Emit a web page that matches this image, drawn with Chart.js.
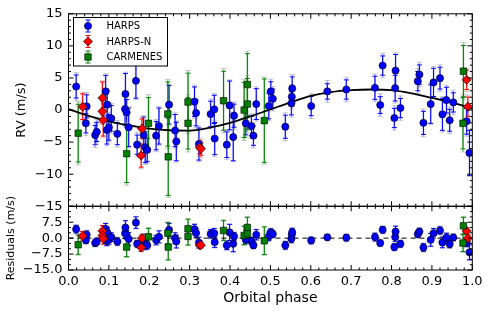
<!DOCTYPE html>
<html>
<head>
<meta charset="utf-8">
<script src="https://cdn.jsdelivr.net/npm/chart.js@4.4.1/dist/chart.umd.min.js"></script>
<style>
  html, body { margin: 0; padding: 0; background: #fff; }
  #wrap { width: 490px; height: 312px; }
</style>
</head>
<body>
<div id="wrap"><canvas id="rvChart" width="490" height="312"></canvas></div>
<script>
// HARPS: phase, RV, residual, error (m/s)
const harpsPhase = [0.019, 0.043, 0.045, 0.066, 0.070, 0.092, 0.095, 0.096, 0.100, 0.106,
  0.121, 0.140, 0.141, 0.144, 0.149, 0.167, 0.170, 0.186, 0.190, 0.195,
  0.217, 0.224, 0.249, 0.264, 0.267, 0.312, 0.316, 0.323, 0.352, 0.361,
  0.362, 0.392, 0.399, 0.408, 0.410, 0.439, 0.453, 0.458, 0.465, 0.496,
  0.501, 0.506, 0.537, 0.552, 0.553, 0.554, 0.601, 0.641, 0.688, 0.759,
  0.772, 0.778, 0.807, 0.809, 0.810, 0.822, 0.865, 0.869, 0.879, 0.897,
  0.904, 0.920, 0.926, 0.936, 0.944, 0.953, 0.986, 0.993];
const harpsRv = [3.67, -2.07, 0.57, -3.9, -3.4, 2.9, -3.1, 0.83, -2.7, -1.3,
  -3.7, 0.16, 2.5, -0.36, -2.7, 4.55, -5.4, -3.9, -5.8, -6.2,
  -4.0, -2.5, 0.83, -3.2, -4.9, 1.3, -0.46, -5.3, -0.62, 0.1,
  -4.45, -5.4, 0.72, -4.2, -0.88, -2.07, -2.5, -4.0, 0.93, 0.62,
  2.9, 1.76, -2.6, 1.04, 2.07, 3.37, 0.62, 2.9, 3.2, 3.47,
  0.78, 6.93, -1.24, 3.42, 6.16, 0.31, 4.5, 5.53, -2.0, 0.93,
  4.3, 4.97, -0.67, 1.55, -1.6, 1.19, -1.76, -6.68];
const harpsRes = [4.2, -1.0, 1.6, -2.3, -1.6, 4.4, -1.3, 2.7, -0.8, 0.5,
  -1.6, 2.3, 5.0, 1.5, -0.4, 7.3, -2.7, -1.0, -3.0, -3.3,
  -0.9, 0.6, 3.9, 0.0, -1.6, 4.2, 2.4, -2.1, 2.0, 2.3,
  -1.9, -3.4, 2.7, -2.7, 0.8, -0.8, -1.3, -3.3, 1.6, 0.8,
  2.8, 1.9, -3.4, -0.3, 1.6, 2.8, -1.1, 0.4, 0.2, 0.5,
  -2.3, 3.9, -4.2, 0.5, 3.1, -2.7, 1.9, 3.1, -4.4, -0.8,
  2.3, 3.6, -2.0, 0.3, -2.8, 0.3, -2.0, -6.7];
const harpsErr = [1.8, 1.5, 1.8, 1.5, 1.5, 2.5, 2.2, 2.2, 2.0, 2.0,
  1.7, 2.5, 3.2, 2.0, 3.0, 2.7, 1.5, 2.8, 2.4, 1.8,
  2.2, 2.8, 3.0, 2.5, 3.0, 2.3, 2.0, 2.5, 2.0, 2.2,
  2.5, 2.0, 3.8, 3.7, 1.8, 1.8, 1.5, 1.5, 2.4, 2.0,
  1.5, 1.5, 1.8, 1.8, 1.5, 1.8, 1.5, 1.2, 1.5, 1.8,
  1.3, 1.5, 1.5, 2.0, 2.5, 1.5, 1.5, 1.5, 1.8, 3.0,
  2.2, 1.7, 2.5, 2.0, 1.7, 1.5, 2.0, 3.5];

// HARPS-N
const harpsnPhase = [0.035, 0.084, 0.084, 0.086, 0.180, 0.182, 0.325, 0.328, 0.986, 0.989];
const harpsnRv = [0.52, 1.87, -0.2, -1.55, -7.1, -2.9, -5.8, -6.05, 4.71, 0.52];
const harpsnRes = [1.1, 3.4, 1.25, -0.3, -4.4, 0.0, -3.4, -3.3, 3.4, 0.0];
const harpsnErr = [2.0, 2.5, 1.8, 2.5, 1.8, 1.5, 1.0, 1.0, 1.5, 1.5];

// CARMENES
const carmPhase = [0.024, 0.144, 0.198, 0.246, 0.247, 0.296, 0.296, 0.384, 0.435, 0.443,
  0.443, 0.485, 0.977, 0.978];
const carmRv = [-3.6, -6.8, -2.07, -0.62, -7.3, 1.25, -2.07, 1.45, 0.0, 3.98,
  0.93, -1.65, -2.07, 6.06];
const carmRes = [-3.1, -4.2, 0.6, 2.3, -4.2, 4.4, 0.8, 3.6, 1.25, 5.0,
  2.0, -1.25, -2.3, 5.8];
const carmErr = [4.5, 4.5, 4.0, 5.0, 6.0, 4.5, 4.0, 4.6, 4.3, 4.8,
  4.0, 6.5, 4.0, 4.0];

// Keplerian model curve
const modelPhase = [0, 0.05, 0.1, 0.15, 0.2, 0.25, 0.3, 0.35, 0.4, 0.45, 0.5,
  0.55, 0.6, 0.65, 0.7, 0.75, 0.8, 0.85, 0.9, 0.95, 1.0];
const modelRv = [0.15, -0.9, -1.75, -2.4, -2.9, -3.15, -3.2, -2.75, -2.0, -1.0, 0.1,
  1.2, 2.2, 2.8, 3.1, 3.2, 3.1, 2.6, 1.9, 1.2, 0.2];

const zeroPhase = [0, 1];
const zeroRes = [0, 0];

const jitter = { harps: 1.2, harpsn: 1.0, carm: 2.0 };

const FONT = "'DejaVu Sans', 'Liberation Sans', sans-serif";
const minus = (s) => String(s).replace('-', '\u2212');

function pts(xs, ys) {
  return xs.map((x, i) => ({ x: x, y: ys[i] }));
}

function scatterSet(label, xs, ys, errs, jit, axis, style) {
  return {
    label: label,
    data: pts(xs, ys),
    yAxisID: axis,
    yErr: errs,
    jitter: jit,
    errColor: style.err,
    errLight: style.light,
    pointStyle: style.shape,
    pointRadius: style.radius,
    pointHoverRadius: style.radius,
    pointBackgroundColor: style.fill,
    pointBorderColor: '#000',
    pointBorderWidth: 0.6,
    order: style.order,
  };
}

const harpsStyle = { fill: '#0000ff', err: '#0000ff', light: 'rgba(0,0,255,0.35)', shape: 'circle', radius: 3.6, order: 3 };
const harpsnStyle = { fill: '#ff0000', err: '#ff0000', light: 'rgba(255,0,0,0.35)', shape: 'rectRot', radius: 4.6, order: 2 };
const carmStyle = { fill: '#008000', err: '#008000', light: 'rgba(0,128,0,0.4)', shape: 'rect', radius: 4.6, order: 1 };

// error bars under the markers
const errorBarPlugin = {
  id: 'errorBars',
  beforeDatasetsDraw(chart) {
    const ctx = chart.ctx;
    const area = chart.chartArea;
    ctx.save();
    ctx.beginPath();
    ctx.rect(area.left, area.top, area.right - area.left, area.bottom - area.top);
    ctx.clip();
    chart.data.datasets.forEach((ds, i) => {
      if (!ds.yErr) return;
      const meta = chart.getDatasetMeta(i);
      const ys = chart.scales[ds.yAxisID];
      meta.data.forEach((pt, j) => {
        const v = ds.data[j].y;
        const e = ds.yErr[j];
        const eo = Math.sqrt(e * e + ds.jitter * ds.jitter);
        const x = pt.x;
        const oTop = ys.getPixelForValue(v + eo);
        const oBot = ys.getPixelForValue(v - eo);
        const iTop = ys.getPixelForValue(v + e);
        const iBot = ys.getPixelForValue(v - e);
        // outer (with jitter)
        ctx.strokeStyle = ds.errLight;
        ctx.lineWidth = 1.6;
        ctx.beginPath();
        ctx.moveTo(x, oTop); ctx.lineTo(x, oBot);
        ctx.stroke();
        ctx.strokeStyle = 'rgba(150,150,150,0.45)';
        ctx.lineWidth = 1;
        ctx.beginPath();
        ctx.moveTo(x - 3, oTop); ctx.lineTo(x + 3, oTop);
        ctx.moveTo(x - 3, oBot); ctx.lineTo(x + 3, oBot);
        ctx.stroke();
        // inner
        ctx.strokeStyle = ds.errColor;
        ctx.lineWidth = 1;
        ctx.beginPath();
        ctx.moveTo(x, iTop); ctx.lineTo(x, iBot);
        ctx.moveTo(x - 2.5, iTop); ctx.lineTo(x + 2.5, iTop);
        ctx.moveTo(x - 2.5, iBot); ctx.lineTo(x + 2.5, iBot);
        ctx.stroke();
      });
    });
    ctx.restore();
  },
};

// matplotlib-like frames with inward ticks, titles and legend
const framePlugin = {
  id: 'frames',
  afterDraw(chart) {
    const ctx = chart.ctx;
    const xs = chart.scales.x;
    const panels = [
      { scale: chart.scales.y, major: 5, minor: 1 },
      { scale: chart.scales.yr, major: 7.5, minor: 2.5 },
    ];
    ctx.save();
    ctx.strokeStyle = '#000';
    panels.forEach((p) => {
      const s = p.scale;
      const l = xs.left, r = xs.right, t = s.top, b = s.bottom;
      ctx.lineWidth = 1;
      ctx.strokeRect(l, t, r - l, b - t);
      ctx.beginPath();
      for (let k = 0; k <= 50; k++) {
        const x = xs.getPixelForValue(k / 50);
        const len = k % 5 === 0 ? 5 : 2.5;
        ctx.moveTo(x, t); ctx.lineTo(x, t + len);
        ctx.moveTo(x, b); ctx.lineTo(x, b - len);
      }
      const n = Math.round((s.max - s.min) / p.minor);
      for (let k = 0; k <= n; k++) {
        const v = s.min + k * p.minor;
        const y = s.getPixelForValue(v);
        const isMajor = Math.abs((v - s.min) / p.major - Math.round((v - s.min) / p.major)) < 1e-6;
        const len = isMajor ? 5 : 2.5;
        ctx.moveTo(l, y); ctx.lineTo(l + len, y);
        ctx.moveTo(r, y); ctx.lineTo(r - len, y);
      }
      ctx.stroke();
    });

    // axis titles
    ctx.fillStyle = '#000';
    ctx.textAlign = 'center';
    ctx.textBaseline = 'middle';
    ctx.font = '14px ' + FONT;
    ctx.fillText('Orbital phase', (xs.left + xs.right) / 2, 298);
    const ty = chart.scales.y;
    ctx.save();
    ctx.translate(22, (ty.top + ty.bottom) / 2);
    ctx.rotate(-Math.PI / 2);
    ctx.font = '13px ' + FONT;
    ctx.fillText('RV (m/s)', 0, 0);
    ctx.restore();
    const tr = chart.scales.yr;
    ctx.save();
    ctx.translate(11, (tr.top + tr.bottom) / 2);
    ctx.rotate(-Math.PI / 2);
    ctx.font = '11px ' + FONT;
    ctx.fillText('Residuals (m/s)', 0, 0);
    ctx.restore();

    // legend
    const box = { x: 73.5, y: 17.5, w: 94, h: 48.5 };
    ctx.fillStyle = '#fff';
    ctx.fillRect(box.x, box.y, box.w, box.h);
    ctx.lineWidth = 1;
    ctx.strokeStyle = '#000';
    ctx.strokeRect(box.x, box.y, box.w, box.h);
    const items = [
      { ds: chart.data.datasets[0], y: 26 },
      { ds: chart.data.datasets[1], y: 41.5 },
      { ds: chart.data.datasets[2], y: 57 },
    ];
    items.forEach((it) => {
      const mx = 88;
      ctx.strokeStyle = it.ds.errColor;
      ctx.lineWidth = 1;
      ctx.beginPath();
      ctx.moveTo(mx, it.y - 6); ctx.lineTo(mx, it.y + 6);
      ctx.moveTo(mx - 2.5, it.y - 6); ctx.lineTo(mx + 2.5, it.y - 6);
      ctx.moveTo(mx - 2.5, it.y + 6); ctx.lineTo(mx + 2.5, it.y + 6);
      ctx.stroke();
      ctx.fillStyle = it.ds.pointBackgroundColor;
      ctx.strokeStyle = '#000';
      ctx.lineWidth = 0.6;
      Chart.helpers.drawPoint(ctx, {
        pointStyle: it.ds.pointStyle,
        radius: it.ds.pointRadius,
        borderWidth: 0.6,
        rotation: 0,
      }, mx, it.y);
      ctx.fillStyle = '#000';
      ctx.textAlign = 'left';
      ctx.font = '10px ' + FONT;
      ctx.fillText(it.ds.label, 106.5, it.y + 0.5);
    });
    ctx.restore();
  },
};

const tickFont = { family: FONT, size: 13 };

new Chart(document.getElementById('rvChart'), {
  type: 'scatter',
  data: {
    datasets: [
      scatterSet('HARPS', harpsPhase, harpsRv, harpsErr, jitter.harps, 'y', harpsStyle),
      scatterSet('HARPS-N', harpsnPhase, harpsnRv, harpsnErr, jitter.harpsn, 'y', harpsnStyle),
      scatterSet('CARMENES', carmPhase, carmRv, carmErr, jitter.carm, 'y', carmStyle),
      scatterSet('HARPS res', harpsPhase, harpsRes, harpsErr, jitter.harps, 'yr', harpsStyle),
      scatterSet('HARPS-N res', harpsnPhase, harpsnRes, harpsnErr, jitter.harpsn, 'yr', harpsnStyle),
      scatterSet('CARMENES res', carmPhase, carmRes, carmErr, jitter.carm, 'yr', carmStyle),
      {
        label: 'model',
        data: pts(modelPhase, modelRv),
        yAxisID: 'y',
        showLine: true,
        cubicInterpolationMode: 'monotone',
        borderColor: '#000',
        borderWidth: 1.8,
        pointRadius: 0,
        order: 5,
      },
      {
        label: 'zero',
        data: pts(zeroPhase, zeroRes),
        yAxisID: 'yr',
        showLine: true,
        borderColor: '#000',
        borderWidth: 1,
        borderDash: [5, 4],
        pointRadius: 0,
        order: 5,
      },
    ],
  },
  options: {
    responsive: false,
    animation: false,
    events: [],
    layout: { padding: { top: 12.7, right: 17.7, bottom: 0, left: 0 } },
    plugins: { legend: { display: false }, tooltip: { enabled: false } },
    scales: {
      x: {
        type: 'linear',
        position: 'bottom',
        min: 0,
        max: 1,
        grid: { display: false, drawTicks: false },
        border: { display: false },
        ticks: {
          stepSize: 0.1,
          padding: 4,
          autoSkip: false,
          maxRotation: 0,
          color: '#000',
          font: tickFont,
          callback: (v) => Number(v).toFixed(1),
        },
        afterFit: (s) => { s.height = 42; },
      },
      yr: {
        type: 'linear',
        position: 'left',
        stack: 'panels',
        stackWeight: 64,
        min: -15,
        max: 15,
        grid: { display: false, drawTicks: false },
        border: { display: false },
        ticks: {
          stepSize: 7.5,
          padding: 6,
          autoSkip: false,
          color: '#000',
          font: tickFont,
          callback: (v) => (v === 15 ? '' : minus(Number(v).toFixed(1))),
        },
        afterFit: (s) => { s.width = 68.5; },
      },
      y: {
        type: 'linear',
        position: 'left',
        stack: 'panels',
        stackWeight: 193.3,
        min: -15,
        max: 15,
        grid: { display: false, drawTicks: false },
        border: { display: false },
        ticks: {
          stepSize: 5,
          padding: 6,
          autoSkip: false,
          color: '#000',
          font: tickFont,
          callback: (v) => minus(v),
        },
        afterFit: (s) => { s.width = 68.5; },
      },
    },
  },
  plugins: [errorBarPlugin, framePlugin],
});
</script>
</body>
</html>
